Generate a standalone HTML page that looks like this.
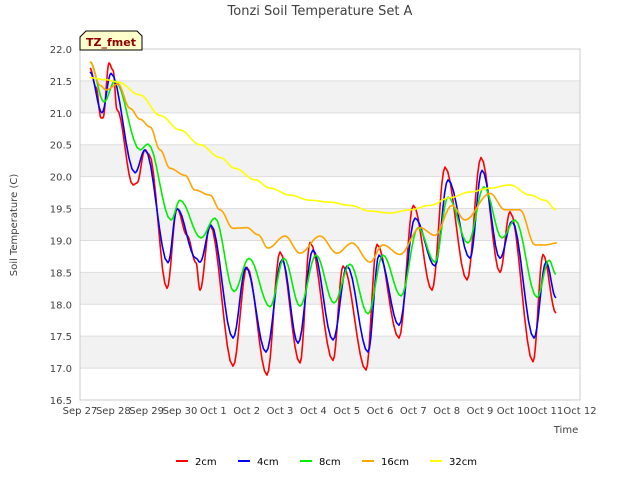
<!DOCTYPE html>
<html><head><meta charset="utf-8"><style>
body{margin:0;background:#fff;}
svg{font-family:"DejaVu Sans","Liberation Sans",sans-serif;}
</style></head><body>
<svg id="chart" width="640" height="480" viewBox="0 0 640 480">
<text x="320" y="15" text-anchor="middle" font-size="13" fill="#404040">Tonzi Soil Temperature Set A</text>
<g id="bands"></g>
<g id="grid"></g>
<rect x="80" y="49" width="500" height="351" fill="none" stroke="#cccccc"/>
<g id="yticks"></g>
<g id="xticks"></g>
<text transform="translate(17,225) rotate(-90)" text-anchor="middle" font-size="10" fill="#404040">Soil Temperature (C)</text>
<text x="566" y="433" text-anchor="middle" font-size="10" fill="#404040">Time</text>
<g id="series"></g>
<g>
<path d="M86,31 L137,31 L142,36 L142,50 L80,50 L80,37 Z" fill="#ffffcc" stroke="#000" stroke-width="1"/>
<text x="111" y="46" text-anchor="middle" font-size="11" font-weight="bold" fill="#8b0000">TZ_fmet</text>
</g>
<g id="legend"></g>
</svg>
<script>
const yTicks=[16.5,17.0,17.5,18.0,18.5,19.0,19.5,20.0,20.5,21.0,21.5,22.0];
const xTickLabels=["Sep 27","Sep 28","Sep 29","Sep 30","Oct 1","Oct 2","Oct 3","Oct 4","Oct 5","Oct 6","Oct 7","Oct 8","Oct 9","Oct 10","Oct 11","Oct 12"];
const seriesNames=["2cm","4cm","8cm","16cm","32cm"];
const seriesColors=["#ff0000","#0000ff","#00ee00","#ffa500","#ffff00"];
const days2=[0.3,0.48,0.63,0.69,0.87,0.99,1.11,1.59,1.71,1.95,2.07,2.61,2.91,3.21,3.48,3.6,3.9,4.59,5.01,5.61,6.0,6.6,6.9,7.59,7.89,8.58,8.91,9.57,10.0,10.56,10.95,11.61,12.03,12.6,12.9,13.59,13.89,14.28];
const temp2=[21.7,21.4,20.92,20.92,21.78,21.67,21.05,19.87,19.9,20.42,20.35,18.25,19.5,19.08,18.65,18.22,19.24,17.03,18.58,16.89,18.82,17.08,18.97,17.12,18.6,16.97,18.94,17.47,19.55,18.22,20.15,18.38,20.3,18.5,19.45,17.1,18.78,17.86];
const days4=[0.3,0.66,0.93,1.65,1.95,2.64,2.91,3.48,3.6,3.93,4.59,4.98,5.58,6.06,6.54,6.99,7.59,8.01,8.64,8.97,9.57,10.05,10.65,11.04,11.7,12.06,12.6,12.96,13.62,13.98,14.28];
const temp4=[21.64,21.0,21.62,20.06,20.42,18.65,19.5,18.72,18.66,19.24,17.47,18.58,17.25,18.7,17.39,18.85,17.44,18.6,17.25,18.77,17.67,19.35,18.6,19.95,18.72,20.1,18.72,19.3,17.47,18.66,18.1];
const days8=[0.3,0.72,1.05,1.8,2.04,2.73,3.0,3.63,4.05,4.62,5.07,5.7,6.12,6.6,7.08,7.62,8.1,8.64,9.09,9.63,10.14,10.65,11.04,11.64,12.12,12.66,13.05,13.71,14.07,14.28];
const temp8=[21.8,21.17,21.5,20.42,20.51,19.32,19.63,19.04,19.35,18.2,18.72,17.96,18.72,17.97,18.77,18.02,18.63,17.85,18.77,18.13,19.2,18.66,19.68,18.96,19.84,19.04,19.32,18.11,18.69,18.47];
const days16=[0.3,0.6,0.78,1.14,1.5,1.8,2.1,2.4,2.7,3.15,3.45,3.9,4.2,4.59,5.01,5.34,5.64,6.15,6.6,7.2,7.71,8.16,8.7,9.09,9.6,10.2,10.65,11.16,11.55,12.3,12.75,13.2,13.65,13.95,14.31];
const temp16=[21.8,21.43,21.36,21.45,21.07,20.9,20.78,20.42,20.13,20.02,19.79,19.71,19.48,19.19,19.2,19.09,18.88,19.07,18.8,19.07,18.8,18.96,18.66,18.93,18.78,19.2,19.08,19.55,19.32,19.74,19.48,19.48,18.93,18.93,18.96];
const days32=[0.3,0.75,1.14,1.8,2.4,3.0,3.6,4.2,4.65,5.25,5.7,6.3,6.9,7.5,8.1,8.7,9.3,9.9,10.5,11.1,11.7,12.3,12.9,13.5,13.95,14.28];
const temp32=[21.55,21.52,21.48,21.28,20.96,20.73,20.5,20.3,20.13,19.95,19.82,19.71,19.63,19.6,19.55,19.46,19.43,19.48,19.55,19.67,19.76,19.82,19.87,19.71,19.63,19.48];

const NS="http://www.w3.org/2000/svg";
const X0=80,X1=580,Y0=400,Y1=49,DMIN=0,DMAX=15,VMIN=16.5,VMAX=22.0;
function xs(d){return X0+(d-DMIN)/(DMAX-DMIN)*(X1-X0);}
function ys(v){return Y0-(v-VMIN)/(VMAX-VMIN)*(Y0-Y1);}
function mk(tag,attrs,parent){const e=document.createElementNS(NS,tag);for(const k in attrs)e.setAttribute(k,attrs[k]);parent.appendChild(e);return e;}
const bands=document.getElementById('bands'),grid=document.getElementById('grid'),yt=document.getElementById('yticks'),xt=document.getElementById('xticks');
for(let i=0;i<yTicks.length-1;i++){
  if(i%2===1){const r=mk('rect',{x:X0,y:ys(yTicks[i+1]),width:X1-X0,height:ys(yTicks[i])-ys(yTicks[i+1]),fill:'#f2f2f2'},bands);
  
  }
}
yTicks.forEach(v=>{
  const l=mk('line',{x1:X0,x2:X1,y1:ys(v),y2:ys(v),stroke:'#dddddd'},grid);
  
  
  const t=mk('text',{x:72,y:ys(v)+4,'text-anchor':'end','font-size':'10',fill:'#404040'},yt);
  t.textContent=v.toFixed(1);
  
  
});
xTickLabels.forEach((s,i)=>{
  const t=mk('text',{x:xs(i),y:414,'text-anchor':'middle','font-size':'10',fill:'#404040'},xt);
  t.textContent=s;
  
  
});
const allDays=[days2,days4,days8,days16,days32],allTemps=[temp2,temp4,temp8,temp16,temp32];
const sg=document.getElementById('series');
allDays.forEach((D,si)=>{
  const T=allTemps[si];let pts=[];
  for(let i=0;i<D.length;i++){
    if(i===0){pts.push([xs(D[0]),ys(T[0])]);continue;}
    const n=8;
    for(let k=1;k<=n;k++){const f=k/n,e=(1-Math.cos(Math.PI*f))/2;
      pts.push([xs(D[i-1]+(D[i]-D[i-1])*f),ys(T[i-1]+(T[i]-T[i-1])*e)]);}
  }
  const p=mk('path',{d:'M'+pts.map(p=>p[0].toFixed(1)+','+p[1].toFixed(1)).join('L'),fill:'none',stroke:seriesColors[si],'stroke-width':'1.6','stroke-linejoin':'round'},sg);
  
  
});
const lg=document.getElementById('legend');
const lx=[176,238,300,362,430];
seriesNames.forEach((s,i)=>{
  const g=mk('g',{},lg);
  
  
  mk('line',{x1:lx[i],x2:lx[i]+12,y1:461,y2:461,stroke:seriesColors[i],'stroke-width':'2'},g);
  const t=mk('text',{x:lx[i]+19,y:465,'font-size':'10',fill:'#000'},g);
  t.textContent=s;
});
</script>
</body></html>
